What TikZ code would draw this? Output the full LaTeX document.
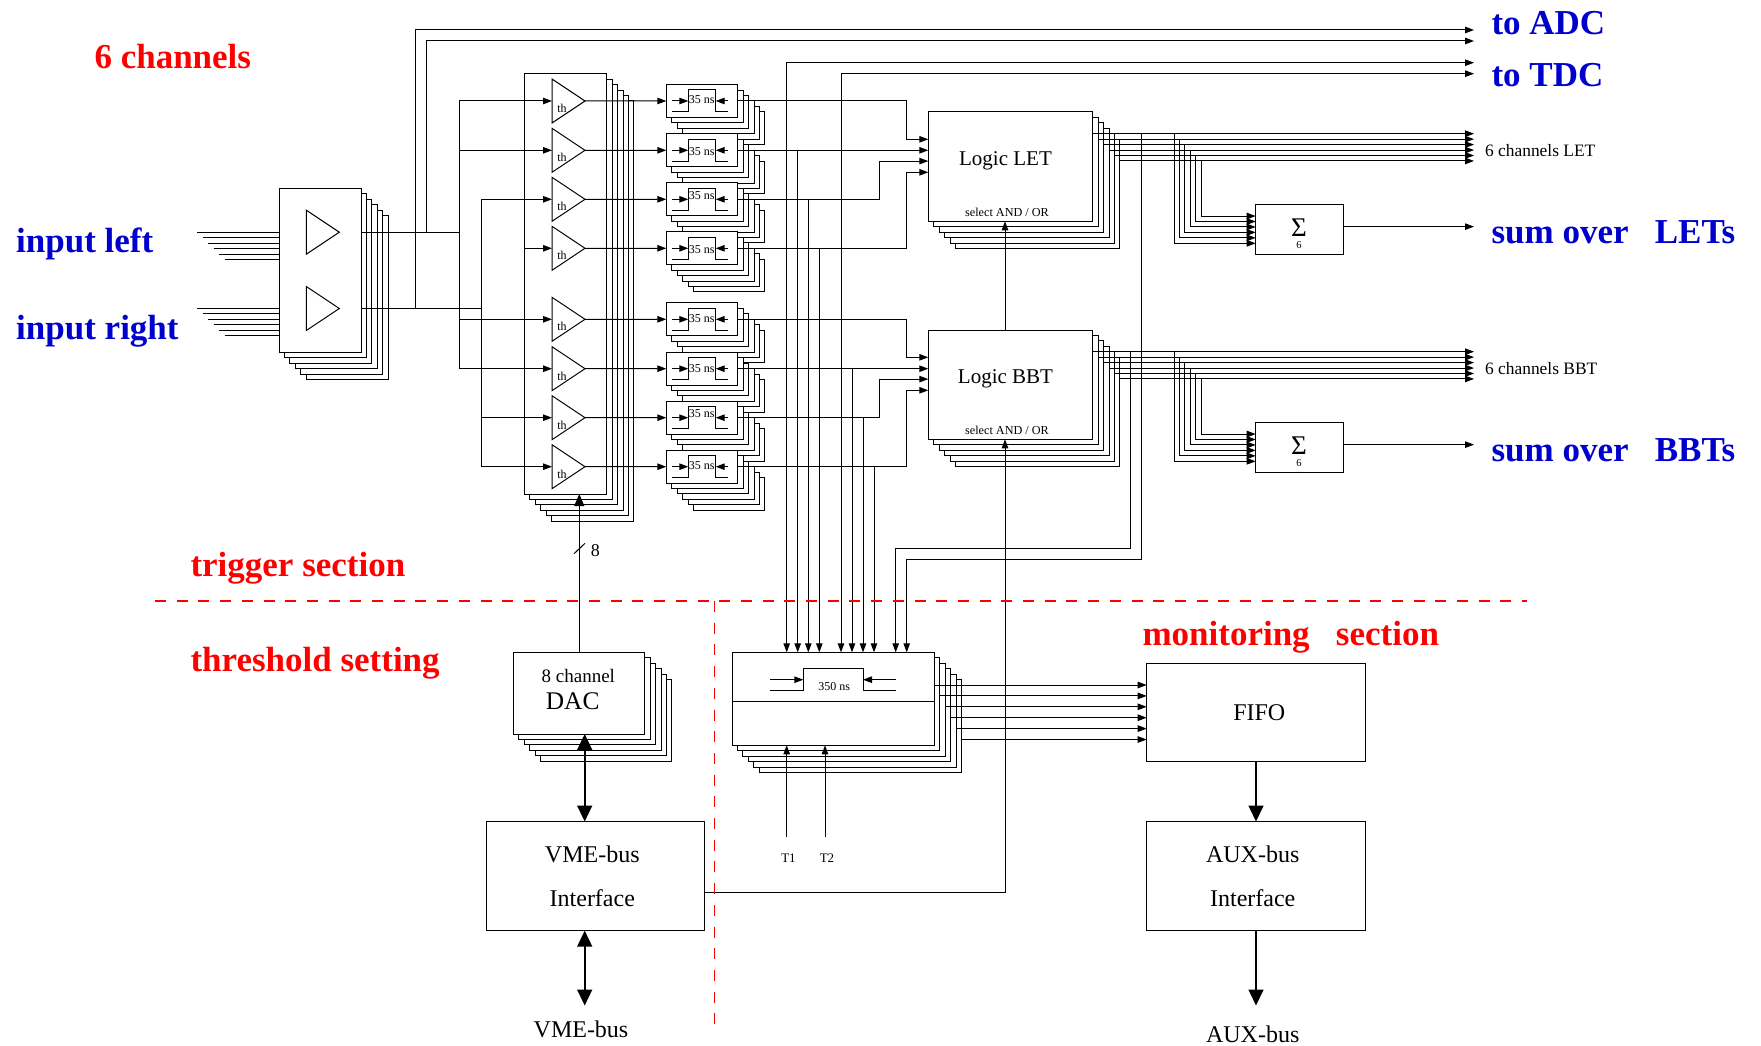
\documentclass[tikz,border=0pt]{standalone}
\usepackage{fontspec}
\setmainfont{Liberation Serif}
\usepackage{xcolor}
\usetikzlibrary{arrows.meta, positioning, calc, shapes.geometric}
\definecolor{secred}{HTML}{FF0000}
\definecolor{secblue}{HTML}{0000CD}
% a box with five more sheets behind it
\newcommand{\stackbox}[5]{%
  \foreach \l in {5,4,3,2,1}{
    \node[layer, minimum width=#4pt, minimum height=#5pt] (#1\l) at (#2+\l*5.45,#3+\l*5.45) {};
  }
  \node[layer, alias=#10, minimum width=#4pt, minimum height=#5pt] (#1) at (#2,#3) {};
}
\begin{document}
\begin{tikzpicture}[
      x=1pt, y=-1pt, line width=1pt,
      >={Stealth[length=9pt, width=6.5pt, inset=0pt]},
      sig/.style={->},
      ctl/.style={->, >={Stealth[length=12pt, width=10pt, inset=0pt]}},
      bigio/.style={<->, line width=1.6pt, >={Stealth[length=16pt, width=15pt, inset=0pt]}},
      bigout/.style={->, line width=1.6pt, >={Stealth[length=16pt, width=15pt, inset=0pt]}},
      layer/.style={draw, fill=white, anchor=north west, inner sep=0pt, outer sep=0pt},
      plainbox/.style={draw, fill=white, anchor=north west, inner sep=0pt, outer sep=0pt},
      amp/.style={draw, isosceles triangle, isosceles triangle stretches, anchor=lower side,
        minimum width=44pt, minimum height=33pt, inner sep=0pt, outer sep=0pt},
      sect/.style={font=\fontsize{35}{40}\selectfont\bfseries, anchor=base west, inner sep=0pt},
      txt/.style={font=\fontsize{#1}{#1}\selectfont, anchor=base, inner sep=0pt},
      redline/.style={secred, line width=1.3pt, dash pattern=on 11pt off 10.7pt}]
    \useasboundingbox (0,0) rectangle (1761,1046);
    \coordinate (busend) at (1474,0);
    % input stage
    \stackbox{inp}{279}{188.3}{82}{164}
    \node[amp] (ampL) at (306.3,232.2) {};
    \node[amp] (ampR) at (306.3,308.5) {};
    \foreach \k in {0,...,5}{
      \draw ({197.3+\k*5.45},{232.3+\k*5.45}) -- (inp.west |- 0,{232.3+\k*5.45});
      \draw ({197.3+\k*5.45},{308.3+\k*5.45}) -- (inp.west |- 0,{308.3+\k*5.45});
    }
    \node[sect, text=secred] (chans) at (94,69) {6 channels};
    \node[sect, text=secblue] (inleft) at (15.7,252.5) {input left};
    \node[sect, text=secblue] (inright) at (15.7,339) {input right};
    % threshold block and delays
    \stackbox{thr}{524.3}{73.7}{82.4}{420.3}
    \foreach \i/\y/\off in {1/101/-1,2/150.3/1,3/199.3/-3.7,4/248.3/1,5/319.3/-1,6/368.7/0,7/417.7/-3.7,8/466.7/-1}{
      \node[amp] (cmp\i) at (552,\y) {};
      \node[txt=12, anchor=center] (th\i) at (562,\y+7.5) {th};
      \stackbox{dly\i}{666.3}{\y-16.35}{71.4}{32.7}
      \draw (672,\y+10.7) -- (688.3,\y+10.7) -- (688.3,\y-11) -- (715.7,\y-11) -- (715.7,\y+10.7) -- (727.7,\y+10.7);
      \draw[sig] (672,\y) -- (688.3,\y);
      \draw[sig] (727.7,\y) -- (715.7,\y);
      \node[txt=12, anchor=center] (ns\i) at (701.8,\y+\off) {35 ns};
    }
    \foreach \i in {1,...,8}{ \draw[sig] (cmp\i.apex) -- (dly\i.west); }
    % input fan-out
    \draw (inp.north east |- 0,232.3) -- (459.3,232.3);
    \draw (inp.north east |- 0,308.3) -- (481,308.3);
    \draw (459.3,101) -- (459.3,368.7);
    \draw (481,199.3) -- (481,466.7);
    \foreach \i in {1,2,5,6}{ \draw[sig] (cmp\i.lower side -| 459.3,0) -- (cmp\i.lower side); }
    \foreach \i in {3,7,8}{ \draw[sig] (cmp\i.lower side -| 481,0) -- (cmp\i.lower side); }
    \draw[sig] (cmp4.lower side -| thr.west) -- (cmp4.lower side);
    \draw[sig] (415.5,308.3) -- (415.5,30) -- (busend |- 0,30);
    \draw[sig] (426.5,232.3) -- (426.5,41) -- (busend |- 0,41);
    \node[sect, text=secblue] (adc) at (1491,35) {to ADC};
    \node[sect, text=secblue] (tdc) at (1491,87) {to TDC};
    % logic, sum and bus lines
    \foreach \nm/\ytop/\lab in {Let/112/LET,Bbt/330/BBT}{
      \stackbox{log\nm}{928.3}{\ytop}{164.4}{109.3}
      \node[txt=21] (name\nm) at (1005.5,\ytop+53) {Logic \lab};
      \node[txt=12.2] (sel\nm) at (1007,\ytop+104) {select AND / OR};
      \node[plainbox, minimum width=87.6pt, minimum height=49.7pt] (sum\nm) at (1255.7,\ytop+92.3) {};
      \node[anchor=center, inner sep=0pt, font=\fontsize{27}{27}\selectfont] (sig\nm) at (1299,\ytop+116) {Σ};
      \node[txt=10.5, anchor=center] (six\nm) at (1299,\ytop+133.3) {6};
      \foreach \k in {0,...,5}{
        \coordinate (bus\nm\k) at ([yshift=-21.7pt]log\nm\k.north east);
        \coordinate (tap\nm\k) at (1174+\k*5.45,\ytop+21.7+\k*5.45);
        \draw[sig] (bus\nm\k) -- (bus\nm\k -| busend);
        \draw[sig] (tap\nm\k) |- ([yshift={10.7pt+\k*5.45pt}]sum\nm.south west);
      }
      \draw[sig] ([yshift=2.5pt]sum\nm.east) -- ([yshift=2.5pt]sum\nm.east -| busend);
      \node[txt=17.4, anchor=base west] (chan\nm) at (1484.6,\ytop+44.5) {6 channels \lab};
      \node[sect, text=secblue] (tot\nm) at (1491,\ytop+131.5) {sum over\ \ \ \lab s};
    }
    % delay outputs into the logic box
    \foreach \nm/\a/\b/\c/\d in {Let/1/2/3/4,Bbt/5/6/7/8}{
      \draw[sig] (dly\a.east) -| ([yshift=-27.3pt]906.7,0 |- log\nm.north) -- ([yshift=-27.3pt]log\nm.north west);
      \draw[sig] (dly\b.east) -- (dly\b.east -| log\nm.west);
      \draw[sig] (dly\c.east) -| ([yshift=-49.1pt]879.3,0 |- log\nm.north) -- ([yshift=-49.1pt]log\nm.north west);
      \draw[sig] (dly\d.east) -| ([yshift=-60.3pt]906.7,0 |- log\nm.north) -- ([yshift=-60.3pt]log\nm.north west);
    }
    % monitoring section
    \stackbox{mon}{732}{652.3}{202.3}{93}
    \draw (mon.west |- 0,701.3) -- (mon.east |- 0,701.3);
    \draw[sig] (770.3,679.7) -- (803.3,679.7);
    \draw[sig] (895.7,679.7) -- (863,679.7);
    \draw (770.3,690.3) -- (803.3,690.3) -- (803.3,668.7) -- (863,668.7) -- (863,690.3) -- (895.7,690.3);
    \node[txt=12, anchor=center] (nsmon) at (834.3,686.7) {350 ns};
    \node[plainbox, minimum width=219pt, minimum height=98pt] (fifo) at (1146.7,663.3) {};
    \node[txt=24] (fifolab) at (1259.3,720) {FIFO};
    \foreach \k in {0,...,5}{
      \coordinate (mout\k) at ([yshift={-32.7pt-\k*5.45pt}]mon\k.north east);
      \draw[sig] (mout\k) -- (mout\k -| fifo.west);
    }
    \draw[<->] (busend |- 0,62.7) -- (786.7,62.7) -- (786.7,0 |- mon.north);
    \draw[<->] (busend |- 0,73.7) -- (841,73.7) -- (841,0 |- mon.north);
    \foreach \i/\x in {2/797.7,3/808.3,4/819.3,6/852,7/863,8/874}{
      \draw[sig] (dly\i.east -| \x,0) -- (\x,0 |- mon.north);
    }
    \draw[sig] (busLet0 -| 1141.5,0) -- (1141.5,559.3) -- (906.7,559.3) -- (906.7,0 |- mon.north);
    \draw[sig] (busBbt0 -| 1130.7,0) -- (1130.7,548.3) -- (895.7,548.3) -- (895.7,0 |- mon.north);
    \coordinate (tone) at (786.7,836.5);
    \coordinate (ttwo) at (825,836.5);
    \draw[sig] (tone) -- (tone |- mon.south);
    \draw[sig] (ttwo) -- (ttwo |- mon.south);
    \node[txt=13, anchor=center] (tonelab) at (788.5,858.5) {T1};
    \node[txt=13, anchor=center] (ttwolab) at (827,858.5) {T2};
    % threshold setting and bus interfaces
    \stackbox{dac}{513.3}{652.3}{131.4}{81.7}
    \node[txt=19] (dacch) at (578.3,682) {8 channel};
    \node[txt=25.4] (daclab) at (572.7,709) {DAC};
    \node[plainbox, minimum width=218pt, minimum height=109.2pt] (vme) at (486.7,821.5) {};
    \node[txt=24] (vmea) at (592.3,862.5) {VME-bus};
    \node[txt=24] (vmeb) at (592.3,906.5) {Interface};
    \node[plainbox, minimum width=219pt, minimum height=109.2pt] (aux) at (1146.7,821.5) {};
    \node[txt=24] (auxa) at (1252.7,862.5) {AUX-bus};
    \node[txt=24] (auxb) at (1252.7,906.5) {Interface};
    \node[txt=24] (vmebus) at (581,1037) {VME-bus};
    \node[txt=24] (auxbus) at (1252.7,1042.5) {AUX-bus};
    \draw[bigio] (584.7,0 |- dac.south) -- (584.7,0 |- vme.north);
    \draw[bigio] (584.7,0 |- vme.south) -- (584.7,1005.5);
    \draw[bigout] (1256,0 |- fifo.south) -- (1256,0 |- aux.north);
    \draw[bigout] (1256,0 |- aux.south) -- (1256,1005.5);
    \draw[ctl] (579.3,0 |- dac.north) -- (579.3,0 |- thr.south);
    \draw (574,553.7) -- (585,543.3);
    \node[txt=18] (eight) at (595.3,556.5) {8};
    % select lines
    \draw[sig] (vme.east |- 0,892.3) -- (1005,892.3) -- (1005,0 |- logBbt.south);
    \draw[sig] (1005,0 |- logBbt.north) -- (1005,0 |- logLet.south);
    % section borders
    \draw[redline] (155,601) -- (1527,601);
    \draw[redline] (714.7,601) -- (714.7,1030);
    \node[sect, text=secred] (trig) at (190,576) {trigger section};
    \node[sect, text=secred] (thrs) at (190,671.5) {threshold setting};
    \node[sect, text=secred] (moni) at (1142,645.5) {monitoring\ \ \ section};
  \end{tikzpicture}
\end{document}
